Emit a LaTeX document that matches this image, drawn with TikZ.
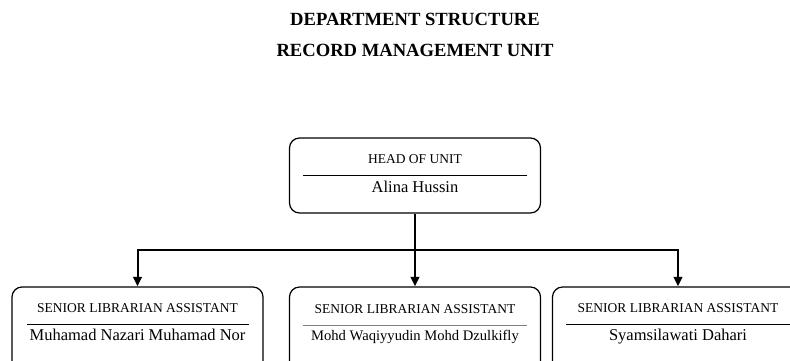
\documentclass[tikz,border=0pt]{standalone}
\usepackage{fontspec}
\setmainfont{Liberation Serif}
\usetikzlibrary{arrows.meta}
\begin{document}
\begin{tikzpicture}[x=1pt,y=-1pt,
  unitbox/.style={draw,line width=1.2pt,rounded corners=10pt,minimum width=251pt,inner sep=0pt},
  post/.style={font=\fontsize{13.5}{15}\selectfont,inner sep=0pt,anchor=base},
  person/.style={font=\fontsize{16.5}{19}\selectfont,inner sep=0pt,anchor=base},
  rule/.style={line width=0.8pt},
  heading/.style={font=\bfseries\fontsize{18.6}{22}\selectfont,inner sep=0pt,anchor=base},
  link/.style={line width=2pt},
  tip/.style={link,-{Triangle[width=8.5pt,length=9.5pt]}}
]
\useasboundingbox (0,0) rectangle (790,360);

% titles
\node[heading] (t1) at (415,25.5) {DEPARTMENT STRUCTURE};
\node[heading] (t2) at (415,56.5) {RECORD MANAGEMENT UNIT};

% head of unit
\node[unitbox,minimum height=75pt] (head) at (415,175.5) {};
\node[post] (headpost) at (415,163) {HEAD OF UNIT};
\node[person] (headname) at (415,192) {Alina Hussin};
\draw[rule] (303,175) -- (527,175);

% staff boxes (run off the page at the bottom)
\node[unitbox,minimum height=90pt] (b1) at (137.5,332) {};
\node[unitbox,minimum height=90pt] (b2) at (415,332) {};
\node[unitbox,minimum height=90pt] (b3) at (678,332) {};

\node[post] (p1) at (137.5,312) {SENIOR LIBRARIAN ASSISTANT};
\node[person] (n1) at (137.5,340) {Muhamad Nazari Muhamad Nor};
\draw[rule] (27,324) -- (249,324);

\node[post] (p2) at (415,313) {SENIOR LIBRARIAN ASSISTANT};
\node[person,font=\fontsize{14.6}{17}\selectfont] (n2) at (415,340) {Mohd Waqiyyudin Mohd Dzulkifly};
\draw[rule,gray] (303,325) -- (527,325);

\node[post] (p3) at (678,312) {SENIOR LIBRARIAN ASSISTANT};
\node[person] (n3) at (678,340) {Syamsilawati Dahari};
\draw[rule] (566,324) -- (795,324);

% connectors
\coordinate (bus) at (415,250);
\draw[link] (head.south) -- (bus);
\draw[tip] (bus) -| (b1.north);
\draw[tip] (bus) -- (b2.north);
\draw[tip] (bus) -| (b3.north);
\end{tikzpicture}
\end{document}
